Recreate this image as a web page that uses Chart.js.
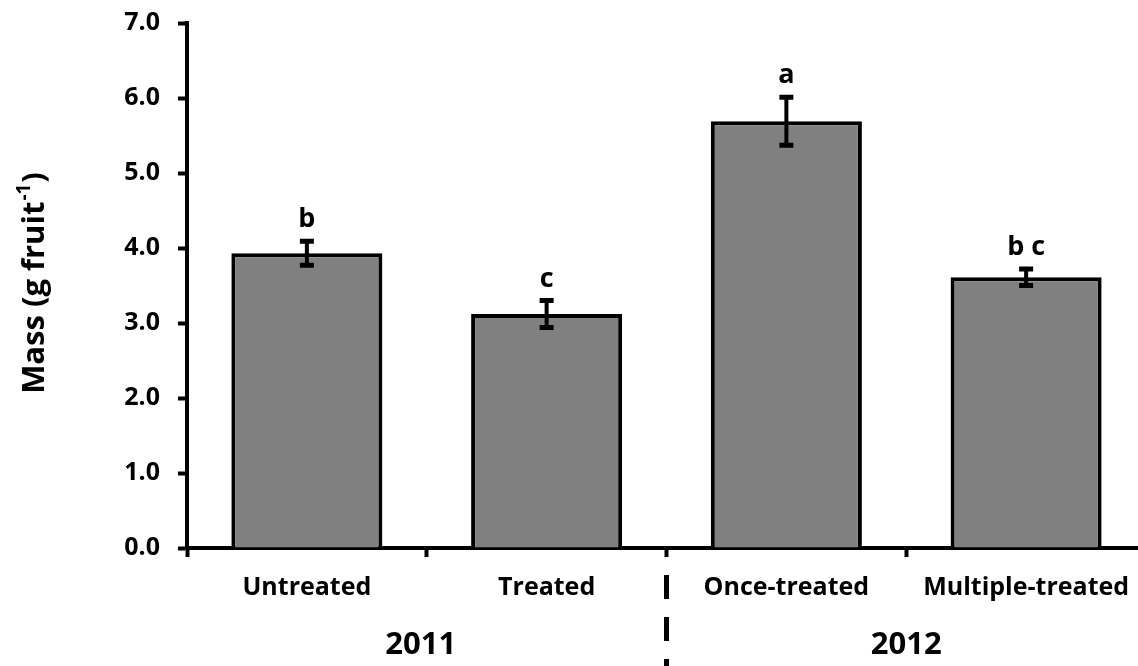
<!DOCTYPE html>
<html>
<head>
<meta charset="utf-8">
<script src="https://cdn.jsdelivr.net/npm/chart.js@4.4.0/dist/chart.umd.min.js"></script>
<style>
html,body{margin:0;padding:0;background:#fff;overflow:hidden;width:1138px;height:666px;}
#wrap{position:relative;width:1146px;height:666px;}
canvas{display:block;}
</style>
</head>
<body>
<div id="wrap"><canvas id="c" width="1146" height="666" style="width:1146px;height:666px;"></canvas></div>
<script>
const categories = ["Untreated", "Treated", "Once-treated", "Multiple-treated"];
const massValues = [3.93, 3.12, 5.69, 3.61];
const errorValues = [0.16, 0.18, 0.32, 0.11];
const letterLabels = ["b", "c", "a", "b c"];
const yearLabels = ["2011", "2012"];
const yTickLabels = ["0.0","1.0","2.0","3.0","4.0","5.0","6.0","7.0"];

const FONT = "'Open Sans', 'Liberation Sans', sans-serif";

const extrasPlugin = {
  id: 'extras',
  afterDatasetsDraw(chart) {
    const ctx = chart.ctx;
    const x = chart.scales.x, y = chart.scales.y;
    const meta = chart.getDatasetMeta(0);
    ctx.save();
    ctx.strokeStyle = '#000';
    ctx.fillStyle = '#000';
    ctx.lineCap = 'butt';
    meta.data.forEach((bar, i) => {
      const cx = bar.x;
      const top = y.getPixelForValue(massValues[i] + errorValues[i]);
      const bot = y.getPixelForValue(massValues[i] - errorValues[i]);
      ctx.lineWidth = 4;
      ctx.beginPath();
      ctx.moveTo(cx, top); ctx.lineTo(cx, bot);
      ctx.stroke();
      ctx.lineWidth = 5;
      ctx.beginPath();
      ctx.moveTo(cx - 7, top); ctx.lineTo(cx + 7, top);
      ctx.moveTo(cx - 7, bot); ctx.lineTo(cx + 7, bot);
      ctx.stroke();
      ctx.font = 'bold 27px ' + FONT;
      ctx.textAlign = 'center';
      ctx.textBaseline = 'alphabetic';
      ctx.fillText(letterLabels[i], cx, top - 14);
    });
    ctx.font = 'bold 31px ' + FONT;
    ctx.textAlign = 'center';
    ctx.textBaseline = 'middle';
    const b01 = (x.getPixelForValue(0) + x.getPixelForValue(1)) / 2;
    const b23 = (x.getPixelForValue(2) + x.getPixelForValue(3)) / 2;
    ctx.fillText(yearLabels[0], b01 - 6, 645);
    ctx.fillText(yearLabels[1], b23, 645);
    const sep = (x.getPixelForValue(1) + x.getPixelForValue(2)) / 2;
    ctx.lineWidth = 5;
    ctx.setLineDash([24, 18]);
    ctx.beginPath();
    ctx.moveTo(sep, 575); ctx.lineTo(sep, 670);
    ctx.stroke();
    ctx.setLineDash([]);
    ctx.translate(35, 284);
    ctx.rotate(-Math.PI / 2);
    ctx.textAlign = 'left';
    ctx.textBaseline = 'middle';
    const main = 'Mass (g fruit';
    ctx.font = 'bold 31px ' + FONT;
    const w1 = ctx.measureText(main).width;
    ctx.font = 'bold 19px ' + FONT;
    const w2 = ctx.measureText('-1').width;
    ctx.font = 'bold 31px ' + FONT;
    const total = w1 + w2 + ctx.measureText(')').width;
    let sx = -total / 2;
    ctx.fillText(main, sx, 0);
    ctx.font = 'bold 19px ' + FONT;
    ctx.fillText('-1', sx + w1 + 1, -10);
    ctx.font = 'bold 31px ' + FONT;
    ctx.fillText(')', sx + w1 + w2 + 2, 0);
    ctx.restore();
  }
};

new Chart(document.getElementById('c'), {
  type: 'bar',
  data: {
    labels: categories,
    datasets: [{
      data: massValues,
      backgroundColor: '#808080',
      borderColor: '#000',
      borderWidth: 4,
      borderSkipped: 'bottom',
      categoryPercentage: 1.0,
      barPercentage: 0.63
    }]
  },
  options: {
    responsive: false,
    animation: false,
    devicePixelRatio: 1,
    layout: { padding: { left: 0, right: 0, top: 23, bottom: 0 } },
    plugins: { legend: { display: false }, tooltip: { enabled: false } },
    scales: {
      x: {
        offset: true,
        grid: { display: true, drawOnChartArea: false, offset: true, tickLength: 9, tickWidth: 4, tickColor: '#000' },
        border: { display: true, color: '#000', width: 4 },
        ticks: { color: '#000', font: { family: FONT, size: 25, weight: 'bold' }, padding: 16, maxRotation: 0, autoSkip: false },
        afterFit(scale) { scale.height = 118; scale.paddingLeft = 0; scale.paddingRight = 0; }
      },
      y: {
        min: 0, max: 7,
        grid: { display: true, drawOnChartArea: false, tickLength: 9, tickWidth: 4, tickColor: '#000' },
        border: { display: true, color: '#000', width: 4 },
        ticks: {
          stepSize: 1,
          color: '#000',
          padding: 18,
          font: { family: FONT, size: 25, weight: 'bold' },
          callback: (v) => yTickLabels[Math.round(v)]
        },
        afterFit(scale) { scale.width = 187; scale.paddingTop = 0; scale.paddingBottom = 0; }
      }
    }
  },
  plugins: [extrasPlugin]
});
</script>
</body>
</html>
